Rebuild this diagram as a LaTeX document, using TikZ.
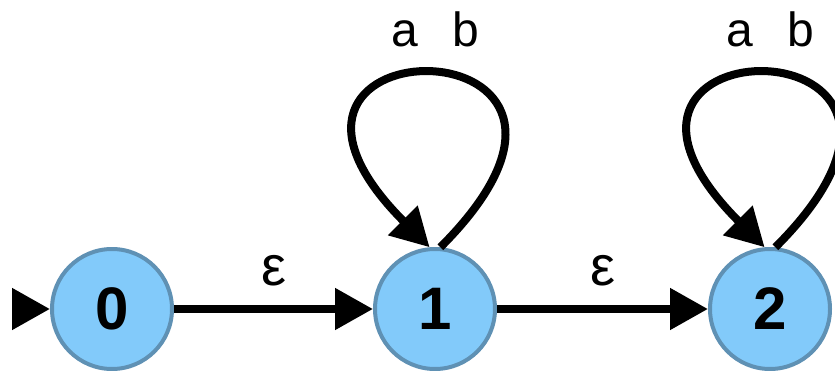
\documentclass[tikz,border=0pt]{standalone}
\usepackage{fontspec}
\setmainfont{Liberation Sans}
\usepackage{tikz}
\usetikzlibrary{arrows.meta, positioning, calc}
\definecolor{statefill}{RGB}{130,202,250}
\definecolor{stateline}{RGB}{95,145,180}

\tikzset{
  state/.style={circle, draw=stateline, line width=2pt, fill=statefill,
    minimum size=60pt, inner sep=0pt, font=\fontsize{30}{30}\selectfont\bfseries},
  trans/.style={line width=4pt, -{Triangle[length=19pt, width=20pt]}},
  lbl/.style={font=\fontsize{24}{24}\selectfont, anchor=base},
  eps/.style={font=\fontsize{28}{28}\selectfont, anchor=base, yshift=12pt},
}

\begin{document}
\begin{tikzpicture}[x=0.5pt, y=0.5pt]
  \useasboundingbox (0,0) rectangle (835,370);
  \node[state] (q0) at (112,61) {0};
  \node[state] (q1) at (435,61) {1};
  \node[state] (q2) at (770,61) {2};
  \coordinate (init) at (13,61);
  \draw[trans] (init) -- (q0);
  \draw[trans] (q0) -- node[eps] {ε} (q1);
  \draw[trans] (q1) -- node[eps] {ε} (q2);
  \foreach \q in {q1, q2} {
    \draw[trans] (\q.85) .. controls +(45:163pt) and +(135:163pt) .. node[lbl, pos=0.5, yshift=14pt] {a\hspace{0.72em}b} (\q.95);
  }
\end{tikzpicture}
\end{document}
